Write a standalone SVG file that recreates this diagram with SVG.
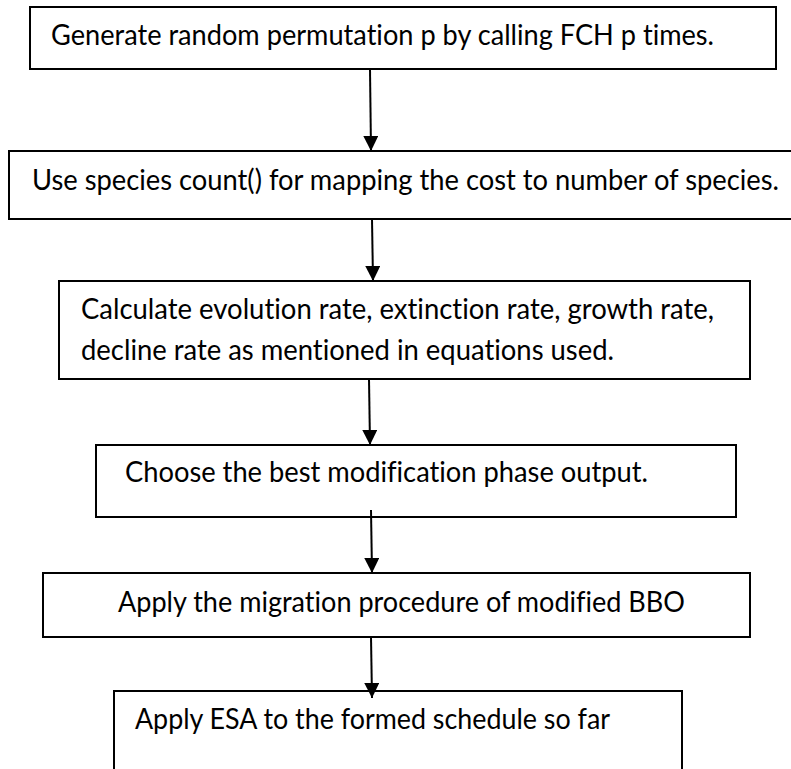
<svg xmlns="http://www.w3.org/2000/svg" width="791" height="769" viewBox="0 0 791 769">
<defs>
<style>
.box{fill:#fff;stroke:#000;stroke-width:2}
.t{font-family:Lato,"Liberation Sans",sans-serif;font-size:28px;fill:#000;font-variant-ligatures:none;font-feature-settings:"liga" 0,"clig" 0}
.c{stroke:#000;stroke-width:2;fill:none}
</style>
<marker id="ah" viewBox="0 0 15 15" refX="15" refY="7.5" markerWidth="15" markerHeight="15" markerUnits="userSpaceOnUse" orient="auto">
<path d="M0,0 L15,7.5 L0,15 z" fill="#000"/>
</marker>
</defs>
<rect width="791" height="769" fill="#fff"/>
<g id="node1">
<rect class="box" x="30" y="7" width="746" height="62"/>
<text class="t" x="51" y="45" textLength="663" lengthAdjust="spacingAndGlyphs">Generate random permutation p by calling FCH p times.</text>
</g>
<g id="node2">
<rect class="box" x="9" y="151" width="800" height="68"/>
<text class="t" x="32" y="190" textLength="747" lengthAdjust="spacingAndGlyphs">Use species count() for mapping the cost to number of species.</text>
</g>
<g id="node3">
<rect class="box" x="59" y="281" width="691" height="98"/>
<text class="t" x="81" y="319" textLength="633" lengthAdjust="spacingAndGlyphs">Calculate evolution rate, extinction rate, growth rate,</text>
<text class="t" x="81" y="360" textLength="533" lengthAdjust="spacingAndGlyphs">decline rate as mentioned in equations used.</text>
</g>
<g id="node4">
<rect class="box" x="96" y="445" width="640" height="72"/>
<text class="t" x="125" y="482" textLength="523" lengthAdjust="spacingAndGlyphs">Choose the best modification phase output.</text>
</g>
<g id="node5">
<rect class="box" x="43" y="573" width="707" height="64"/>
<text class="t" x="118" y="612" textLength="567" lengthAdjust="spacingAndGlyphs">Apply the migration procedure of modified BBO</text>
</g>
<g id="node6">
<rect class="box" x="114" y="691" width="568" height="100"/>
<text class="t" x="135" y="729" textLength="475" lengthAdjust="spacingAndGlyphs">Apply ESA to the formed schedule so far</text>
</g>
<g id="connectors">
<line class="c" x1="370" y1="69" x2="371" y2="151" marker-end="url(#ah)"/>
<line class="c" x1="372" y1="219" x2="373" y2="281" marker-end="url(#ah)"/>
<line class="c" x1="369" y1="379" x2="370" y2="445" marker-end="url(#ah)"/>
<line class="c" x1="371" y1="510" x2="372" y2="573" marker-end="url(#ah)"/>
<line class="c" x1="371" y1="637" x2="372" y2="698" marker-end="url(#ah)"/>
</g>
</svg>
